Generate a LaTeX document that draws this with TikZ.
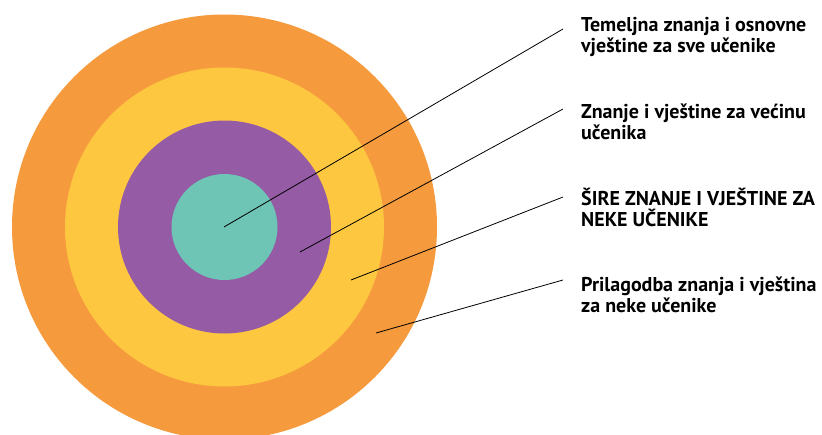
\documentclass[tikz,border=0pt]{standalone}
\usepackage{fontspec}
\setmainfont{PT Sans}
\definecolor{ringorange}{RGB}{246,154,62}
\definecolor{ringyellow}{RGB}{253,200,64}
\definecolor{ringpurple}{RGB}{149,91,165}
\definecolor{ringteal}{RGB}{110,196,181}
\tikzset{
  txt/.style={anchor=base west, inner sep=0pt, align=left, font=\bfseries\fontsize{20}{21}\selectfont},
  pointer/.style={line width=0.8pt, black}
}
\begin{document}
\begin{tikzpicture}[x=1pt,y=-1pt]
        \useasboundingbox (0,0) rectangle (822,434);
        \clip (0,0) rectangle (822,434);

        \fill[ringorange] (224.5,227) circle (212.5);
        \fill[ringyellow] (224.5,227) circle (159.5);
        \fill[ringpurple] (224.5,227) circle (106.5);
        \fill[ringteal] (224.5,227) circle (53);

        \coordinate (p1) at (224,227);
        \coordinate (p2) at (300,252);
        \coordinate (p3) at (351,280);
        \coordinate (p4) at (376,333);
        \coordinate (e1) at (563,29);
        \coordinate (e2) at (563,109);
        \coordinate (e3) at (563,197);
        \coordinate (e4) at (563,280);

        % base anchor sits on the last line
        \node[txt] (t1) at (581,52) {Temeljna znanja i osnovne\\vještine za sve učenike};
        \node[txt] (t2) at (581,139) {Znanje i vještine za većinu\\učenika};
        \node[txt] (t3) at (581,226) {ŠIRE ZNANJE I VJEŠTINE ZA\\NEKE UČENIKE};
        \node[txt] (t4) at (581,312) {Prilagodba znanja i vještina\\za neke učenike};

        \draw[pointer] (p1) -- (e1);
        \draw[pointer] (p2) -- (e2);
        \draw[pointer] (p3) -- (e3);
        \draw[pointer] (p4) -- (e4);

    \end{tikzpicture}
\end{document}
